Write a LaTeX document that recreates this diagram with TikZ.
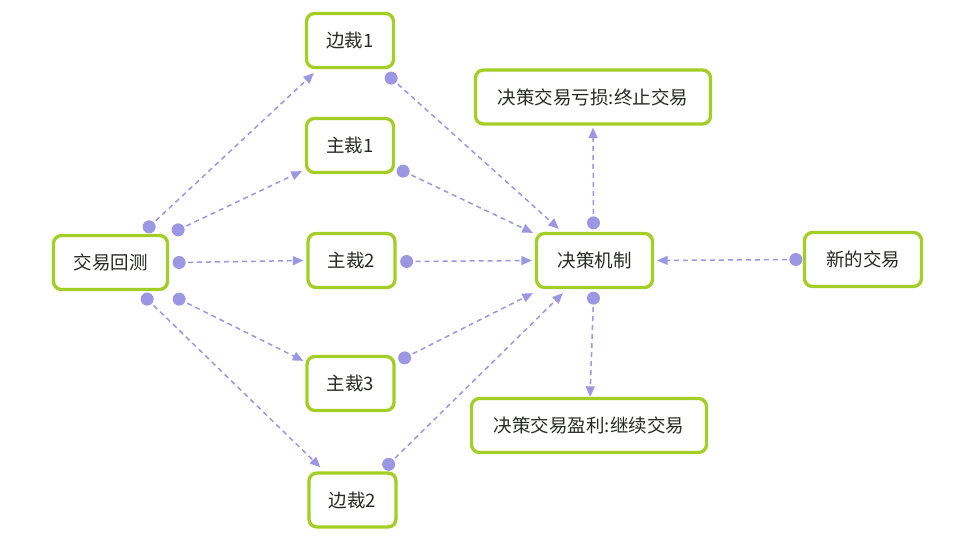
\documentclass[tikz,border=0pt]{standalone}
\usepackage{fontspec}
\setmainfont{Noto Sans CJK SC}
\usetikzlibrary{arrows.meta}
\definecolor{leaf}{RGB}{163,206,38}
\definecolor{lav}{RGB}{155,151,226}
\definecolor{ink}{RGB}{40,42,38}
\begin{document}
\begin{tikzpicture}[x=1pt, y=-1pt, line join=round, >={Triangle[length=10.5pt,width=9pt]}]
 \tikzset{box/.style={draw=leaf, line width=3.3pt, rounded corners=8pt, fill=white, text=ink,
   font=\fontsize{18.5}{20}\selectfont, minimum height=54pt, minimum width=87pt},
  link/.style={draw=lav, line width=1.5pt, dash pattern=on 5pt off 4pt, ->}}
 \useasboundingbox (0,0) rectangle (960,545);
 \node[box, minimum width=114pt] (test) at (110.5,262.5) {交易回测};
 \node[box] (side1) at (350,40.5) {边裁1};
 \node[box] (main1) at (350,145.5) {主裁1};
 \node[box] (main2) at (351.5,260.5) {主裁2};
 \node[box] (main3) at (350.5,383.5) {主裁3};
 \node[box] (side2) at (352.5,500) {边裁2};
 \node[box, minimum width=116pt] (decide) at (594.5,260.5) {决策机制};
 \node[box, minimum width=235pt] (loss) at (593,97) {决策交易亏损:终止交易};
 \node[box, minimum width=235pt] (gain) at (589,425.5) {决策交易盈利:继续交易};
 \node[box, minimum width=117pt] (newtrade) at (863,259.5) {新的交易};
 \coordinate (h1) at ([shift={(-20,-7)}]test.north east);
 \coordinate (h2) at ([shift={(9,-4)}]test.north east);
 \coordinate (h3) at ([shift={(10,0)}]test.east);
 \coordinate (h4) at ([shift={(10,8)}]test.south east);
 \coordinate (h5) at ([shift={(-22,8)}]test.south east);
 \coordinate (h6) at ([shift={(-4,9)}]side1.south east);
 \coordinate (h7) at ([shift={(8,-3)}]main1.south east);
 \coordinate (h8) at ([shift={(10,1)}]main2.east);
 \coordinate (h9) at ([shift={(9,3)}]main3.north east);
 \coordinate (h10) at ([shift={(-9,-7)}]side2.north east);
 \coordinate (h11) at ([shift={(-1,-9)}]decide.north);
 \coordinate (h12) at ([shift={(-1,9)}]decide.south);
 \coordinate (h13) at ([shift={(-7,0)}]newtrade.west);
 \draw[link] (h1) -- ([shift={(9,4)}]side1.south west);
 \draw[link] (h2) -- ([shift={(-3,-3)}]main1.south west);
 \draw[link] (h3) -- ([shift={(-3,0)}]main2.west);
 \draw[link] (h4) -- ([shift={(-2,6)}]main3.north west);
 \draw[link] (h5) -- ([shift={(13,-4)}]side2.north west);
 \draw[link] (h6) -- ([shift={(24,-3)}]decide.north west);
 \draw[link] (h7) -- ([shift={(-2,1)}]decide.north west);
 \draw[link] (h8) -- ([shift={(-3,0)}]decide.west);
 \draw[link] (h9) -- ([shift={(-2,4)}]decide.south west);
 \draw[link] (h10) -- ([shift={(28,4)}]decide.south west);
 \draw[link] (h11) -- ([shift={(0,2)}]loss.south);
 \draw[link] (h12) -- ([shift={(1,0)}]gain.north);
 \draw[link] (h13) -- ([shift={(3,0)}]decide.east);
 \foreach \h in {h1,h2,h3,h4,h5,h6,h7,h8,h9,h10,h11,h12,h13}
  \fill[lav] (\h) circle (6.5pt);
\end{tikzpicture}
\end{document}
